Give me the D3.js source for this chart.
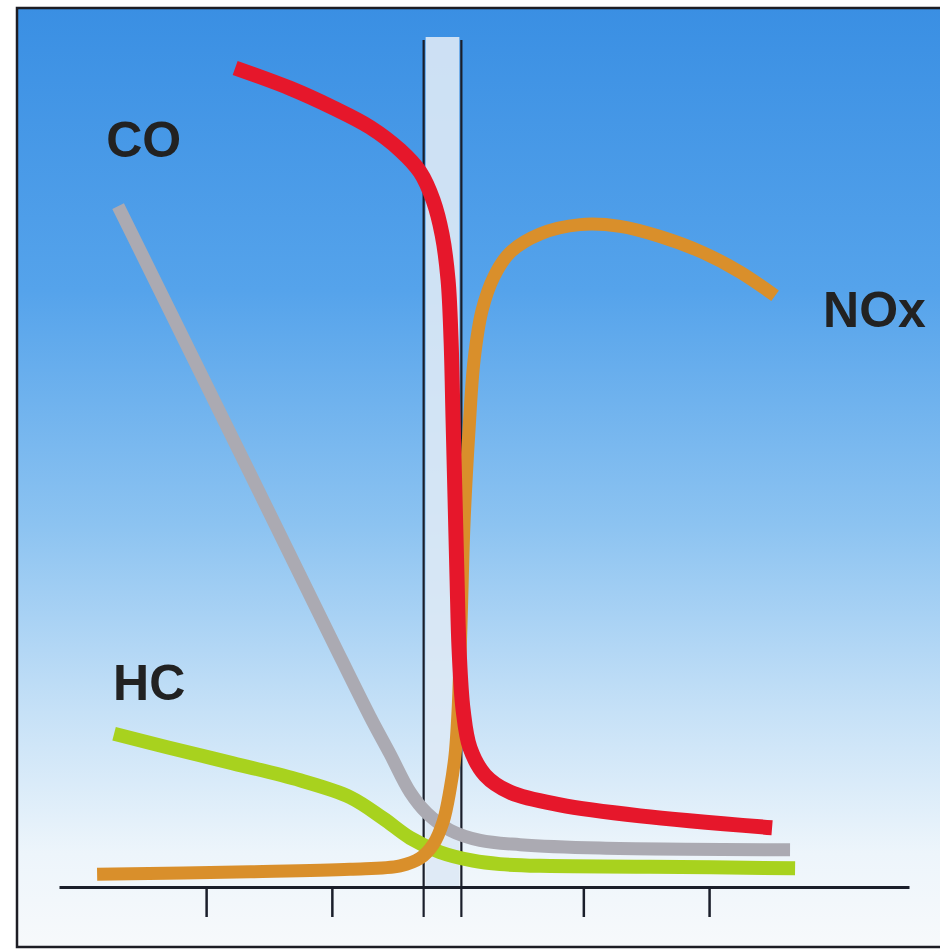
<!DOCTYPE html>
<html>
<head>
<meta charset="utf-8">
<script src="https://cdnjs.cloudflare.com/ajax/libs/d3/7.8.5/d3.min.js"></script>
<style>
  body { margin: 0; background: #fff; }
  .label { font-family: "Liberation Sans", Arial, sans-serif; font-weight: bold; font-size: 50px; fill: #222; }
</style>
</head>
<body>
<script>
// lambda (air ratio) on x, relative concentration (0-100) on y
var tickLambdas = [0.8, 0.9, 1.1, 1.2];
var windowLambdas = [0.973, 1.003];

var redLambda = [0.8231, 0.8668, 0.9010, 0.9304, 0.9543, 0.9702, 0.9805, 0.9877, 0.9924, 0.9948, 0.9964, 0.9980, 0.9996, 1.0012, 1.0044, 1.0099, 1.0219, 1.0417, 1.0815, 1.1451, 1.2501];
var redValue  = [96.7, 94.3, 92.0, 89.7, 87.0, 84.4, 81.1, 77.0, 71.7, 64.6, 55.1, 45.7, 36.2, 28.0, 20.9, 16.4, 13.2, 11.2, 9.7, 8.4, 7.0];

var coLambda = [0.7300, 0.8350, 0.8986, 0.9304, 0.9463, 0.9622, 0.9757, 0.9940, 1.0179, 1.0497, 1.1133, 1.2644];
var coValue  = [80.4, 48.8, 29.6, 20.1, 15.7, 11.2, 8.7, 6.7, 5.5, 5.0, 4.6, 4.4];

var hcLambda = [0.7268, 0.7690, 0.8215, 0.8748, 0.9145, 0.9408, 0.9622, 0.9861, 1.0123, 1.0338, 1.0656, 1.1531, 1.2684];
var hcValue  = [18.1, 16.5, 14.6, 12.6, 10.6, 8.1, 5.8, 4.1, 3.1, 2.7, 2.5, 2.4, 2.2];

var noxLambda = [0.7133, 0.8350, 0.9145, 0.9543, 0.9702, 0.9805, 0.9885, 0.9940, 0.9980, 1.0004, 1.0028, 1.0052, 1.0091, 1.0131, 1.0195, 1.0290, 1.0417, 1.0656, 1.0974, 1.1292, 1.1610, 1.1952, 1.2247, 1.2525];
var noxValue  = [1.5, 1.8, 2.1, 2.5, 3.4, 5.0, 7.7, 11.5, 15.6, 20.9, 31.5, 43.3, 54.0, 62.2, 68.1, 72.1, 74.9, 77.1, 78.2, 78.0, 76.8, 74.9, 72.6, 69.8];

var labelNames  = ["CO", "HC", "NOx"];
var labelLambda = [0.7205, 0.7260, 1.2907];
var labelValue  = [86.2, 22.1, 66.1];

var width = 940, height = 950;

var svg = d3.select("body").append("svg")
    .attr("width", width)
    .attr("height", height);

var x = d3.scaleLinear().domain([0.683, 1.359]).range([59, 909]);
var y = d3.scaleLinear().domain([0, 100]).range([887, 40]);

// background gradient
var grad = svg.append("defs").append("linearGradient")
    .attr("id", "bg")
    .attr("x1", 0).attr("y1", 0).attr("x2", 0).attr("y2", 1);
grad.append("stop").attr("offset", "0%").attr("stop-color", "#3a8fe3");
grad.append("stop").attr("offset", "30%").attr("stop-color", "#55a3eb");
grad.append("stop").attr("offset", "55%").attr("stop-color", "#8cc3f1");
grad.append("stop").attr("offset", "75%").attr("stop-color", "#c6e1f7");
grad.append("stop").attr("offset", "90%").attr("stop-color", "#edf5fb");
grad.append("stop").attr("offset", "100%").attr("stop-color", "#f7f9fb");

svg.append("rect")
    .attr("x", 17).attr("y", 8)
    .attr("width", 940).attr("height", 939)
    .attr("fill", "url(#bg)")
    .attr("stroke", "#1d1d24")
    .attr("stroke-width", 2.5);

// lambda window
svg.append("rect")
    .attr("x", x(windowLambdas[0]) + 2)
    .attr("y", y(100) - 3)
    .attr("width", x(windowLambdas[1]) - x(windowLambdas[0]) - 4)
    .attr("height", y(0) - y(100) + 3)
    .attr("fill", "#dde9f5")
    .attr("opacity", 0.9);

svg.selectAll("line.win")
    .data(windowLambdas)
    .enter()
    .append("line")
    .attr("class", "win")
    .attr("x1", function(d) { return x(d); })
    .attr("x2", function(d) { return x(d); })
    .attr("y1", y(100))
    .attr("y2", y(0) + 30)
    .attr("stroke", "#1a1e2a")
    .attr("stroke-width", 2.2);

// x axis
var axis = svg.append("g")
    .attr("transform", "translate(0," + y(0) + ")")
    .call(d3.axisBottom(x).tickValues(tickLambdas).tickSize(30).tickSizeOuter(0).tickFormat(""));
axis.select(".domain").attr("stroke", "#1a1e2a").attr("stroke-width", 3);
axis.selectAll(".tick line").attr("stroke", "#1a1e2a").attr("stroke-width", 2.5);

// curves
var line = d3.line()
    .x(function(d) { return x(d[0]); })
    .y(function(d) { return y(d[1]); })
    .curve(d3.curveCatmullRom.alpha(0.5));

var series = [
  {lam: hcLambda,  val: hcValue,  color: "#a8d21e", w: 14},
  {lam: coLambda,  val: coValue,  color: "#abaab2", w: 13},
  {lam: noxLambda, val: noxValue, color: "#d98f2b", w: 13},
  {lam: redLambda, val: redValue, color: "#e6172b", w: 15}
];

svg.selectAll("path.curve")
    .data(series)
    .enter()
    .append("path")
    .attr("class", "curve")
    .attr("d", function(s) { return line(d3.zip(s.lam, s.val)); })
    .attr("fill", "none")
    .attr("stroke", function(s) { return s.color; })
    .attr("stroke-width", function(s) { return s.w; })
    .attr("stroke-linecap", "butt")
    .attr("stroke-linejoin", "round");

// labels
svg.selectAll("text.label")
    .data(labelNames)
    .enter()
    .append("text")
    .attr("class", "label")
    .attr("x", function(d, i) { return x(labelLambda[i]); })
    .attr("y", function(d, i) { return y(labelValue[i]); })
    .text(function(d) { return d; });
</script>
</body>
</html>
